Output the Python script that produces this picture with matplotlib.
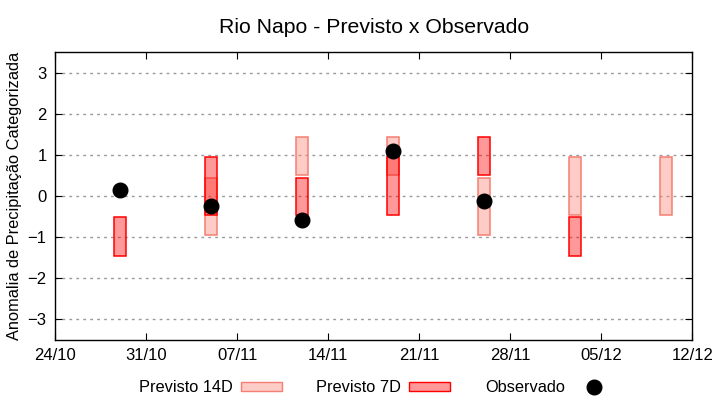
import datetime as dt
import matplotlib
matplotlib.use("Agg")
import matplotlib.pyplot as plt
import matplotlib.dates as mdates
from matplotlib.patches import Patch
from matplotlib.lines import Line2D

plt.rcParams['font.family'] = ['Liberation Sans', 'DejaVu Sans']

# previsao 14 dias (limite inferior, limite superior)
datas_14d = ["05/11", "12/11", "19/11", "26/11", "03/12", "10/12"]
inf_14d = [-0.96, 0.50, 0.50, -0.96, -0.45, -0.45]
sup_14d = [0.43, 1.43, 1.43, 0.43, 0.94, 0.94]

# previsao 7 dias
datas_7d = ["29/10", "05/11", "12/11", "19/11", "26/11", "03/12"]
inf_7d = [-1.45, -0.45, -0.45, -0.45, 0.50, -1.45]
sup_7d = [-0.52, 0.94, 0.43, 0.94, 1.43, -0.52]

# observado
datas_obs = ["29/10", "05/11", "12/11", "19/11", "26/11"]
obs = [0.14, -0.25, -0.59, 1.09, -0.13]


def to_date(s):
    d, m = s.split("/")
    return dt.datetime(2023, int(m), int(d))


fig = plt.figure(figsize=(7.2, 4), dpi=100)
ax = fig.add_axes([0.0764, 0.15, 0.885, 0.72])

x14 = mdates.date2num([to_date(s) for s in datas_14d])
x7 = mdates.date2num([to_date(s) for s in datas_7d])
xo = mdates.date2num([to_date(s) for s in datas_obs])

larg = 0.92
ax.bar(x14, [s - i for s, i in zip(sup_14d, inf_14d)], bottom=inf_14d, width=larg,
       facecolor=(0.98, 0.5, 0.45, 0.4), edgecolor="#f47f72", linewidth=1.1, zorder=2)
ax.bar(x7, [s - i for s, i in zip(sup_7d, inf_7d)], bottom=inf_7d, width=larg,
       facecolor=(1, 0, 0, 0.4), edgecolor="red", linewidth=1.1, zorder=3)
ax.plot(xo, obs, "o", color="black", markersize=10.5, zorder=4)

inicio = mdates.date2num(dt.datetime(2023, 10, 24))
ax.set_xlim(inicio, inicio + 49)
ax.set_ylim(-3.5, 3.5)
ax.set_yticks([-3, -2, -1, 0, 1, 2, 3])
ax.set_xticks([inicio + 7 * k for k in range(8)])
ax.xaxis.set_major_formatter(mdates.DateFormatter("%d/%m"))
ax.tick_params(direction="in", top=True, right=True, labelsize=12, length=5, pad=6)
for lab in ax.get_xticklabels() + ax.get_yticklabels():
    lab.set_family(['Liberation Sans Narrow', 'Liberation Sans'])
ax.grid(axis="y", linestyle=(0, (2, 3)), color="#999999", linewidth=1)
for sp in ax.spines.values():
    sp.set_linewidth(1)

ax.set_title("Rio Napo - Previsto x Observado", fontsize=15.3, pad=14)
ax.set_ylabel("Anomalia de Precipitação Categorizada", fontsize=11.8)

handles = [
    Patch(facecolor=(0.98, 0.5, 0.45, 0.4), edgecolor="#f47f72", linewidth=1),
    Patch(facecolor=(1, 0, 0, 0.4), edgecolor="red", linewidth=1),
    Line2D([], [], marker="o", color="black", linestyle="none", markersize=10.5),
]
fig.legend(handles, ["Previsto 14D", "Previsto 7D", "Observado"], loc="center",
           bbox_to_anchor=(0.523, 0.03), ncol=3, frameon=False, markerfirst=False,
           fontsize=11.8, handlelength=2.5, handleheight=0.5, handletextpad=0.5,
           columnspacing=2.1)

fig.savefig("out.png", dpi=100)
